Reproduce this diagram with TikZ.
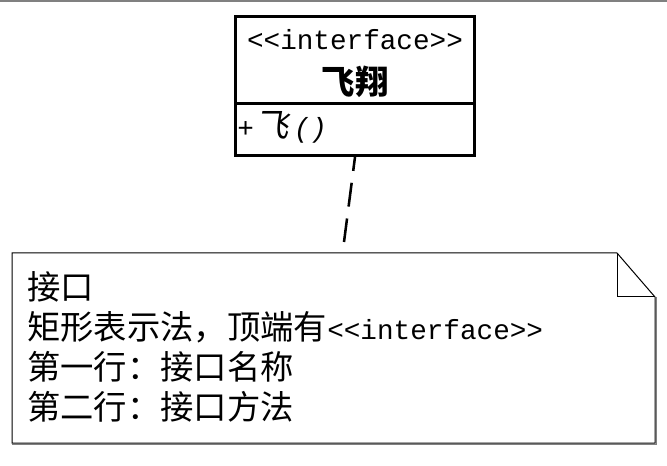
\documentclass[tikz,border=0pt]{standalone}
\usepackage{fontspec}
\newfontfamily\cjk{Noto Sans CJK SC}
\newfontfamily\cjkit{Noto Sans CJK SC}[FakeSlant=0.2]
\newfontfamily\lat{Liberation Mono}[Scale=0.83]

\begin{document}
\begin{tikzpicture}[x=0.75pt,y=0.75pt,yscale=-1,xscale=1,every node/.style={inner sep=0pt,font=\fontsize{25}{30}\selectfont}]
			\useasboundingbox (0,0) rectangle (667,466);
			\fill[gray] (0,0) rectangle (667,2.5);
			
			% interface box
			\node[draw, line width=2.25pt, minimum width=179.25pt, minimum height=104.25pt] (cls) at (355,86) {};
			\draw[line width=2.25pt] (cls.west |- 0,104) -- (cls.east |- 0,104);
			\node (stereo) at (355,40) {\lat <{}<interface>{}>};
			\node (name) at (355,82) {\cjk\bfseries 飞翔};
			\node[anchor=west] (oper) at (237,127) {\lat\itshape +\kern1pt{\cjkit 飞}\kern4pt()};
			
			% note
			\draw[line width=0.75pt] (12,253) -- (617,253) -- (655,297) -- (655,443) -- (12,443) -- cycle;
			\draw[line width=0.75pt] (617,253) -- (617,297) -- (655,297);
			\draw[gray, line width=0.75pt] (656,297) -- (656,444) -- (12,444);
			\node[anchor=north west, align=left, font=\fontsize{25}{30}\selectfont\cjk] (memo) at (27,271) {接口\\矩形表示法，顶端有{\lat <{}<interface>{}>}\\第一行：接口名称\\第二行：接口方法};
			
			\coordinate (tip) at (344,242);
			\draw[line width=1.9pt, dash pattern=on 18pt off 9pt, dash phase=7.5pt] (cls.south) -- (tip);
			\end{tikzpicture}
\end{document}
